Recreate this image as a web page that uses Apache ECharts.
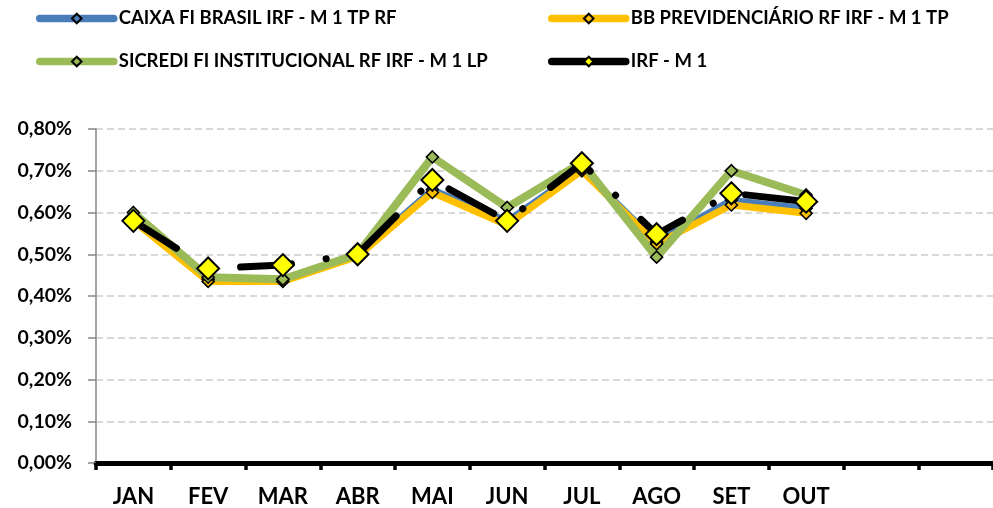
<!DOCTYPE html>
<html>
<head>
<meta charset="utf-8">
<script src="https://cdn.jsdelivr.net/npm/echarts@6/dist/echarts.min.js"></script>
<style>html,body{margin:0;padding:0;background:#fff}#c{width:993px;height:508px}</style>
</head>
<body>
<div id="c"></div>
<script>
const categories = ['JAN','FEV','MAR','ABR','MAI','JUN','JUL','AGO','SET','OUT','',''];
const yTicks = [0,0.1,0.2,0.3,0.4,0.5,0.6,0.7,0.8];
const caixa    = [0.59, 0.44, 0.44, 0.50, 0.655, 0.58, 0.705, 0.53, 0.63, 0.61];
const bb       = [0.58, 0.435, 0.435, 0.495, 0.648, 0.57, 0.70, 0.525, 0.618, 0.598];
const sicredi  = [0.60, 0.445, 0.44, 0.50, 0.733, 0.612, 0.72, 0.493, 0.70, 0.642];
const irfm1    = [0.58, 0.466, 0.474, 0.50, 0.678, 0.58, 0.718, 0.548, 0.646, 0.626];
const names = ['CAIXA FI BRASIL IRF - M 1 TP RF','BB PREVIDENCIÁRIO RF IRF - M 1 TP','SICREDI FI INSTITUCIONAL RF IRF - M 1 LP','IRF - M 1'];

const FONT = 'Lato, "Open Sans", sans-serif';
function small(name, data, color, width) {
  return {
    name, type: 'line', data,
    symbol: 'diamond', symbolSize: 12,
    itemStyle: { color: color, borderColor: '#000', borderWidth: 1.6 },
    lineStyle: { color: color, width: width, cap: 'round', join: 'round' },
    animation: false
  };
}
const chart = echarts.init(document.getElementById('c'), null, {renderer: 'canvas'});
const legendCommon = {
  orient: 'vertical', itemWidth: 74, itemHeight: 12, itemGap: 24,
  textStyle: { fontFamily: FONT, fontWeight: 'bold', fontSize: 18.5, color: '#000' },
  lineStyle: { type: 'solid', cap: 'round', width: 7.5 },
  itemStyle: { borderWidth: 2 },
  selectedMode: false
};
chart.setOption({
  animation: false,
  legend: [
    Object.assign({}, legendCommon, { left: 31, top: 4, data: [names[0], names[2]] }),
    Object.assign({}, legendCommon, { left: 543, top: 4, data: [names[1], names[3]] })
  ],
  grid: { left: 96, right: -3, top: 129, bottom: 45, containLabel: false },
  xAxis: {
    type: 'category', data: categories, boundaryGap: true,
    axisLine: { lineStyle: { color: '#000', width: 5 } },
    axisTick: { show: true, length: 7, lineStyle: { color: '#000', width: 3.5 } },
    axisLabel: { fontFamily: FONT, fontWeight: 'bold', fontSize: 22, color: '#000', margin: 23, interval: 0 },
    splitLine: { show: false }
  },
  yAxis: {
    type: 'value', min: 0, max: 0.8, interval: 0.1,
    axisLine: { show: true, lineStyle: { color: '#868686', width: 1.5 } },
    axisTick: { show: true, length: 8, lineStyle: { color: '#868686', width: 1.5 } },
    axisLabel: { fontFamily: FONT, fontWeight: 'bold', fontSize: 19.5, color: '#000', margin: 24,
      formatter: v => v.toFixed(2).replace('.', ',') + '%' },
    splitLine: { lineStyle: { color: '#d9d9d9', width: 2, type: [7, 4] } }
  },
  series: [
    small(names[0], caixa, '#4a7ebb', 6),
    small(names[1], bb, '#ffc000', 7),
    small(names[2], sicredi, '#9bbb59', 8),
    {
      name: names[3], type: 'line', data: irfm1,
      symbol: 'diamond', symbolSize: 22,
      itemStyle: { color: '#ffff00', borderColor: '#000', borderWidth: 2 },
      lineStyle: { color: '#000', width: 7, type: [51, 35, 0.1, 35], dashOffset: 0, cap: 'round', join: 'round' }
    }
  ]
});
</script>
</body>
</html>
